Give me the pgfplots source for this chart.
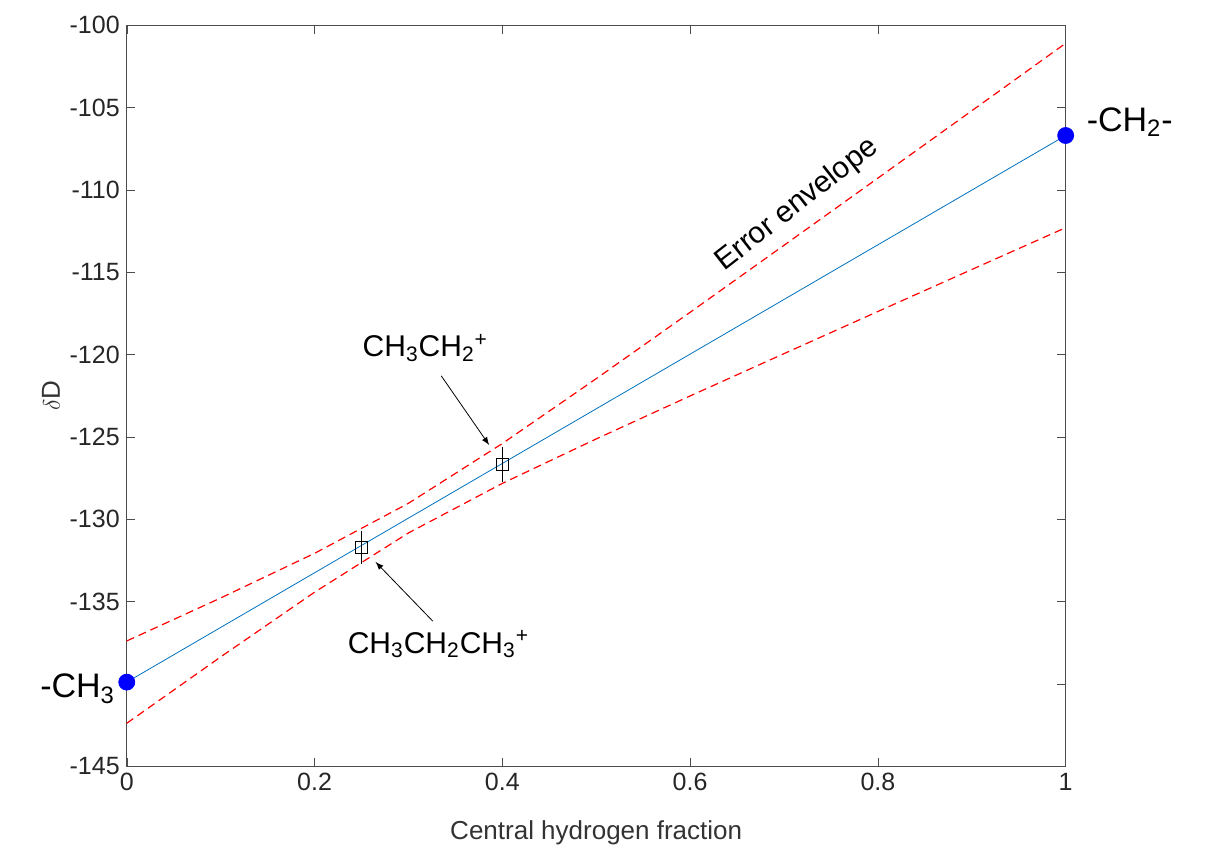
\documentclass[border=0pt]{standalone}
\usepackage{pgfplots}
\pgfplotsset{compat=1.18}
\usepackage{fontspec}
\setmainfont{Liberation Sans}
\begin{document}
\begin{tikzpicture}
\begin{axis}[
  scale only axis, width=469.5pt, height=370.5pt,
  xmin=0, xmax=1, ymin=-145, ymax=-100,
  xtick={0,0.2,0.4,0.6,0.8,1}, ytick={-145,-140,...,-100},
  xticklabels={0,0.2,0.4,0.6,0.8,1},
  yticklabels={-145,,-135,-130,-125,-120,-115,-110,-105,-100},
  tick align=inside, tick style={black!70}, axis line style={black!70},
  ticklabel style={font=\fontsize{12.5}{14}\selectfont, text=black!85},
  xlabel={Central hydrogen fraction}, ylabel={$\delta$D},
  label style={font=\fontsize{13}{15}\selectfont, text=black!80},
  ylabel style={yshift=-2pt}, xlabel style={yshift=-8pt},
  clip=false,
]
\addplot[color={rgb,255:red,0;green,114;blue,189}, thin] coordinates {(0,-139.9) (1,-106.7)};
\addplot[red, dash pattern=on 4pt off 2.5pt, semithick] coordinates {(0,-137.4)(0.1,-134.79)(0.2,-132.08)(0.3,-129.04)(0.4,-125.41)(0.5,-121.47)(0.6,-117.44)(0.7,-113.37)(0.8,-109.29)(0.9,-105.2)(1,-101.1)};
\addplot[red, dash pattern=on 4pt off 2.5pt, semithick] coordinates {(0,-142.4)(0.1,-138.37)(0.2,-134.44)(0.3,-130.84)(0.4,-127.83)(0.5,-125.13)(0.6,-122.52)(0.7,-119.95)(0.8,-117.39)(0.9,-114.84)(1,-112.3)};
\addplot[only marks, mark=*, mark size=4pt, blue, mark options={fill=blue}] coordinates {(0,-139.9) (1,-106.7)};
\addplot[only marks, mark=square, mark size=3pt, black, error bars/.cd, y dir=both, y explicit, error mark=none, error bar style={semithick}] coordinates {(0.25,-131.7) +- (0,1.0) (0.4,-126.7) +- (0,1.05)};
\node[font=\fontsize{17}{19}\selectfont, anchor=east] at (axis cs:-0.005,-140.3) {-CH\textsubscript{3}};
\node[font=\fontsize{17}{19}\selectfont, anchor=west] at (axis cs:1.015,-105.9) {-CH\textsubscript{2}-};
\node[font=\fontsize{15}{17}\selectfont] at (axis cs:0.318,-119.6) {CH\textsubscript{3}CH\textsubscript{2}\textsuperscript{+}};
\node[font=\fontsize{15}{17}\selectfont] at (axis cs:0.332,-137.6) {CH\textsubscript{3}CH\textsubscript{2}CH\textsubscript{3}\textsuperscript{+}};
\draw[-latex, thin] (axis cs:0.335,-121.3) -- (axis cs:0.386,-125.5);
\draw[-latex, thin] (axis cs:0.326,-136.2) -- (axis cs:0.265,-132.6);
\node[font=\fontsize{15}{17}\selectfont, rotate=38] at (axis cs:0.714,-110.9) {Error envelope};
\path (rel axis cs:-0.135,-0.127) rectangle (rel axis cs:1.158,1.034);
\end{axis}
\end{tikzpicture}
\end{document}
